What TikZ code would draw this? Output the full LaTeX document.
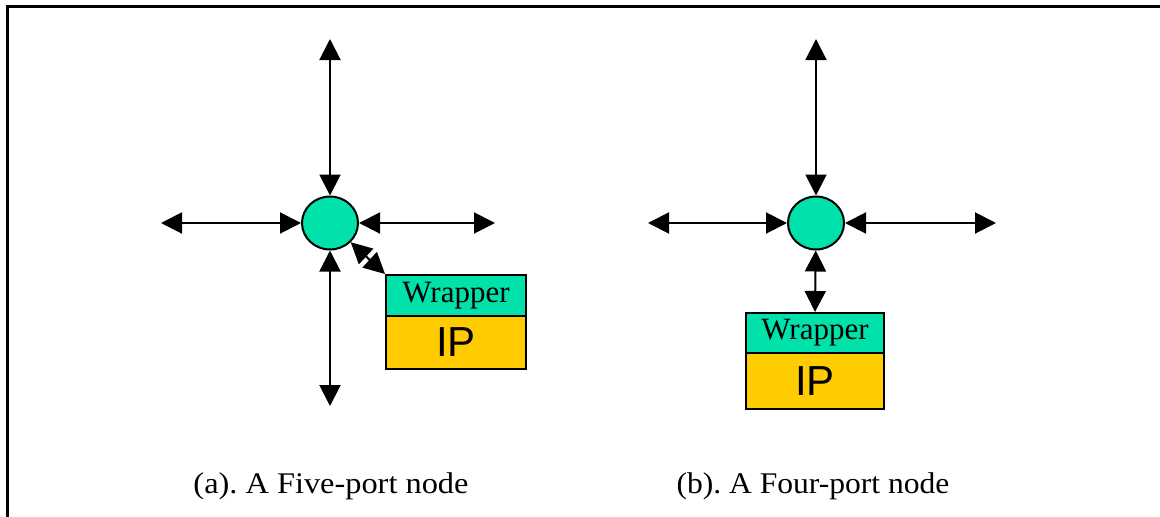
\documentclass[tikz,border=0pt]{standalone}
\usepackage{fontspec}
\setmainfont{Liberation Serif}
\newfontfamily\ipfont{Liberation Sans}
\usetikzlibrary{arrows.meta,shapes.geometric}
\frenchspacing
\definecolor{nodegreen}{RGB}{0,226,170}
\definecolor{ipyellow}{RGB}{255,204,0}
\tikzset{
  router/.style={ellipse,draw=black,line width=2pt,fill=nodegreen,minimum width=56pt,minimum height=53pt,inner sep=0pt},
  wrapbox/.style={rectangle,draw=black,line width=2pt,fill=nodegreen,inner sep=0pt,font=\fontsize{31pt}{31pt}\selectfont},
  ipbox/.style={rectangle,draw=black,line width=2pt,fill=ipyellow,inner sep=0pt,font=\ipfont\fontsize{42pt}{42pt}\selectfont},
  link/.style={line width=2pt,{Triangle[length=21pt,width=21pt]}-{Triangle[length=21pt,width=21pt]}},
  captext/.style={anchor=base,inner sep=0pt,font=\fontsize{30pt}{30pt}\selectfont}
}
\begin{document}
\begin{tikzpicture}[x=1pt,y=-1pt]
\useasboundingbox (0,0) rectangle (1160,517);
\draw[line width=3pt] (7.5,517) -- (7.5,6.5) -- (1160,6.5);
% (a)
\node[router] (ca) at (330,223) {};
\coordinate (au) at (330,39);
\coordinate (al) at (161,223);
\coordinate (ar) at (495,223);
\coordinate (ad) at (330,406);
\node[wrapbox,minimum width=140pt,minimum height=41pt] (wa) at (456,295.5) {Wrapper};
\node[ipbox,minimum width=140pt,minimum height=53pt] (ia) at (456,342.5) {IP};
\draw[link] (ca) -- (au);
\draw[link] (ca) -- (al);
\draw[link] (ca) -- (ar);
\draw[link] (ca) -- (ad);
\draw[link] (ca) -- (wa.north west);
% (b)
\node[router] (cb) at (816,223) {};
\coordinate (bu) at (816,39);
\coordinate (bl) at (648,223);
\coordinate (br) at (996,223);
\node[wrapbox,minimum width=138pt,minimum height=40pt] (wb) at (815,333) {Wrapper};
\node[ipbox,minimum width=138pt,minimum height=56pt] (ib) at (815,381) {IP};
\draw[link] (cb) -- (bu);
\draw[link] (cb) -- (bl);
\draw[link] (cb) -- (br);
\draw[link] (cb) -- (wb.north);
% captions
\node[captext] (capa) at (331,493) {\resizebox{275pt}{\height}{(a). A Five-port node}};
\node[captext] (capb) at (813,493) {\resizebox{273pt}{\height}{(b). A Four-port node}};
\end{tikzpicture}
\end{document}
